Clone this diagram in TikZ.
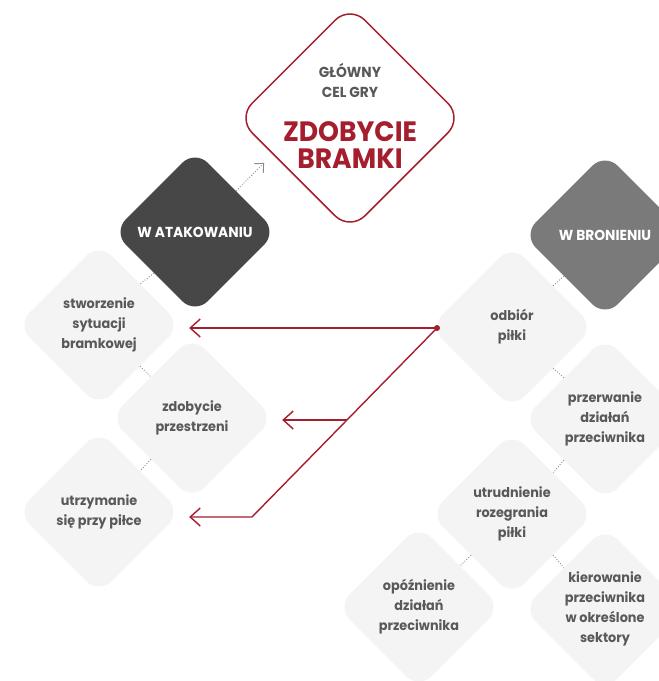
\documentclass[tikz,border=0pt]{standalone}
\usepackage{fontspec}
\setmainfont{Poppins}[FakeStretch=0.95]
\newfontfamily\headfont{Poppins}[FakeStretch=0.95]
\usetikzlibrary{shapes.geometric,arrows.meta,calc}
\definecolor{redc}{HTML}{A51E2D}
\definecolor{darkc}{HTML}{474747}
\definecolor{midc}{HTML}{7A7A7A}
\definecolor{lightc}{HTML}{F4F4F4}
\definecolor{txtc}{HTML}{595959}
\definecolor{dotc}{HTML}{8A8A8A}
\begin{document}
\begin{tikzpicture}[x=1pt,y=-1pt,
  dia/.style={diamond, aspect=1, minimum width=164pt, minimum height=164pt, inner sep=0pt, rounded corners=18pt},
  lightbox/.style={dia, fill=lightc, text=txtc, font=\bfseries\fontsize{13.5}{20}\selectfont, align=center},
  headbox/.style={dia, text=white, font=\headfont\bfseries\fontsize{14.5}{16}\selectfont},
  dotline/.style={dotc, line width=0.9pt, dash pattern=on 0.9pt off 1.8pt},
  dotarrow/.style={dotline, -{Straight Barb[length=7pt,width=13pt]}},
  redarrow/.style={redc, line width=1.4pt, -{Straight Barb[length=10pt,width=18pt]}, shorten >=8pt},
]
\useasboundingbox (0,0) rectangle (659,681);
\clip (0,0) rectangle (659,681);
\fill[white] (0,0) rectangle (659,681);

% main goal
\node[dia, minimum width=226pt, minimum height=226pt, rounded corners=21pt, draw=redc, line width=1.5pt, fill=white] (main) at (350,118) {};
\node[font=\headfont\bfseries\fontsize{14.5}{20}\selectfont, text=txtc, align=center] (goal) at (350,80) {GŁÓWNY\\CEL GRY};
\node[font=\headfont\bfseries\fontsize{28}{27}\selectfont, text=redc, align=center] (goalb) at (350,145) {ZDOBYCIE\\BRAMKI};

% headers
\node[headbox, fill=darkc] (atk) at (195,232) {W ATAKOWANIU};
\node[headbox, fill=midc] (bro) at (605,235) {W BRONIENIU};

% attack side
\node[lightbox] (stw) at (99,325) {stworzenie\\sytuacji\\bramkowej};
\node[lightbox] (zdo) at (192,418) {zdobycie\\przestrzeni};
\node[lightbox] (utr) at (99,512) {utrzymanie\\się przy piłce};

% defence side
\node[lightbox] (odb) at (512,327) {odbiór\\piłki};
\node[lightbox] (prz) at (605,419) {przerwanie\\działań\\przeciwnika};
\node[lightbox] (utd) at (512,514) {utrudnienie\\rozegrania\\piłki};
\node[lightbox] (opo) at (419,607) {opóźnienie\\działań\\przeciwnika};
\node[lightbox] (kie) at (605,609) {kierowanie\\przeciwnika\\w określone\\sektory};

% dotted links
\draw[dotarrow] (atk.north east) -- ++(28,-28);
\draw[dotline] (atk.south west) -- (stw.north east);
\draw[dotline] (stw.south east) -- (zdo.north west);
\draw[dotline] (zdo.south west) -- (utr.north east);
\draw[dotline] (bro.south west) -- (odb.north east);
\draw[dotline] (odb.south east) -- (prz.north west);
\draw[dotline] (prz.south west) -- (utd.north east);
\draw[dotline] (utd.south west) -- (opo.north east);
\draw[dotline] (utd.south east) -- (kie.north west);

% red arrows
\coordinate (src) at (437,328);
\coordinate (bend) at (252,517);
\coordinate (mid) at ($(src)!0.4868!(bend)$);
\draw[redarrow] (src) -- (stw.east |- src);
\draw[redarrow] (mid) -- (zdo.east |- mid);
\draw[redarrow] (src) -- (bend) -- (utr.east |- bend);
\fill[redc] (src) circle (3pt);
\end{tikzpicture}
\end{document}
